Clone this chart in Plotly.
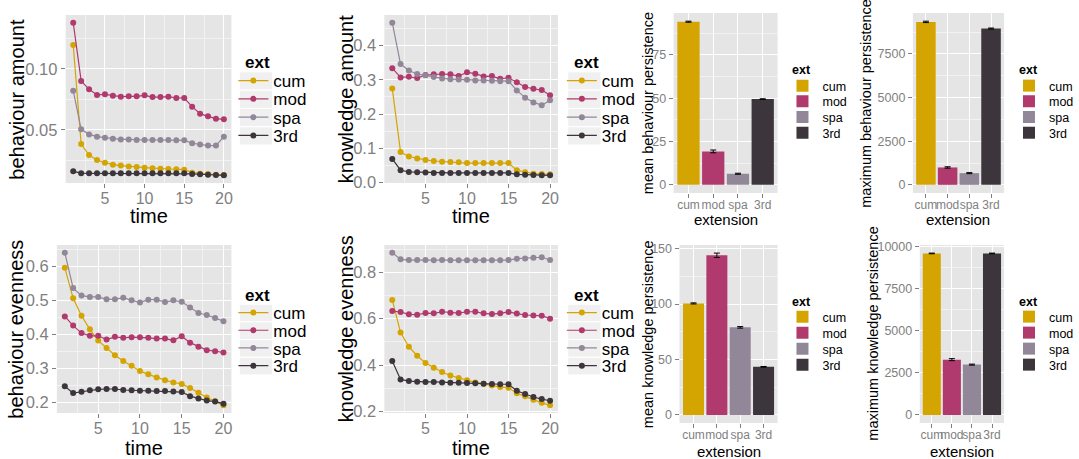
import plotly.graph_objects as go

W, H = 1079, 459

time = list(range(1, 21))
ext = ["cum", "mod", "spa", "3rd"]
colors = ["#D4A500", "#B03A6E", "#928799", "#3C353C"]

# behaviour amount
beh_amount_cum = [0.1197, 0.0385, 0.0295, 0.0254, 0.0232, 0.0216, 0.0208, 0.0200, 0.0197, 0.0191,
                  0.0186, 0.0183, 0.0180, 0.0178, 0.0175, 0.0150, 0.0142, 0.0139, 0.0134, 0.0131]
beh_amount_mod = [0.1380, 0.0902, 0.0833, 0.0787, 0.0792, 0.0781, 0.0773, 0.0776, 0.0776, 0.0784,
                  0.0770, 0.0770, 0.0773, 0.0762, 0.0762, 0.0691, 0.0634, 0.0612, 0.0593, 0.0587]
beh_amount_spa = [0.0822, 0.0505, 0.0464, 0.0445, 0.0437, 0.0429, 0.0423, 0.0423, 0.0418, 0.0418,
                  0.0418, 0.0418, 0.0418, 0.0415, 0.0415, 0.0391, 0.0380, 0.0372, 0.0372, 0.0445]
beh_amount_3rd = [0.0161, 0.0146, 0.0145, 0.0145, 0.0145, 0.0145, 0.0145, 0.0145, 0.0145, 0.0145,
                  0.0145, 0.0145, 0.0145, 0.0145, 0.0145, 0.0140, 0.0137, 0.0134, 0.0131, 0.0128]

# knowledge amount
know_amount_cum = [0.275, 0.089, 0.076, 0.070, 0.066, 0.063, 0.061, 0.060, 0.059, 0.057,
                   0.057, 0.057, 0.057, 0.057, 0.057, 0.036, 0.030, 0.026, 0.025, 0.024]
know_amount_mod = [0.334, 0.307, 0.309, 0.305, 0.314, 0.316, 0.317, 0.316, 0.311, 0.322,
                   0.318, 0.310, 0.311, 0.303, 0.306, 0.293, 0.279, 0.274, 0.270, 0.255]
know_amount_spa = [0.467, 0.346, 0.327, 0.317, 0.313, 0.308, 0.304, 0.302, 0.301, 0.300,
                   0.298, 0.298, 0.297, 0.296, 0.296, 0.269, 0.248, 0.234, 0.226, 0.240]
know_amount_3rd = [0.069, 0.036, 0.031, 0.030, 0.029, 0.028, 0.028, 0.028, 0.028, 0.028,
                   0.028, 0.028, 0.028, 0.028, 0.028, 0.024, 0.023, 0.022, 0.021, 0.021]

# behaviour evenness
beh_even_cum = [0.596, 0.506, 0.455, 0.415, 0.382, 0.360, 0.339, 0.322, 0.308, 0.293,
                0.283, 0.274, 0.266, 0.259, 0.255, 0.243, 0.229, 0.215, 0.204, 0.192]
beh_even_mod = [0.453, 0.426, 0.404, 0.396, 0.396, 0.385, 0.393, 0.390, 0.392, 0.392,
                0.390, 0.388, 0.388, 0.383, 0.395, 0.376, 0.364, 0.354, 0.351, 0.347]
beh_even_spa = [0.640, 0.536, 0.514, 0.510, 0.510, 0.503, 0.503, 0.508, 0.500, 0.494,
                0.502, 0.502, 0.495, 0.500, 0.496, 0.479, 0.463, 0.457, 0.448, 0.439]
beh_even_3rd = [0.248, 0.228, 0.232, 0.236, 0.239, 0.240, 0.240, 0.237, 0.236, 0.235,
                0.235, 0.234, 0.234, 0.233, 0.231, 0.219, 0.212, 0.206, 0.203, 0.197]

# knowledge evenness
know_even_cum = [0.681, 0.540, 0.479, 0.440, 0.409, 0.388, 0.370, 0.355, 0.344, 0.334,
                 0.325, 0.319, 0.312, 0.305, 0.302, 0.278, 0.265, 0.250, 0.237, 0.226]
know_even_mod = [0.633, 0.629, 0.619, 0.617, 0.624, 0.623, 0.630, 0.626, 0.624, 0.630,
                 0.630, 0.623, 0.620, 0.623, 0.629, 0.622, 0.616, 0.614, 0.613, 0.600]
know_even_spa = [0.885, 0.856, 0.853, 0.853, 0.853, 0.852, 0.853, 0.852, 0.852, 0.852,
                 0.852, 0.852, 0.852, 0.852, 0.853, 0.859, 0.860, 0.863, 0.865, 0.853]
know_even_3rd = [0.417, 0.338, 0.331, 0.328, 0.327, 0.327, 0.325, 0.324, 0.324, 0.322,
                 0.321, 0.319, 0.318, 0.317, 0.317, 0.289, 0.275, 0.262, 0.253, 0.246]

# persistence bars
mean_beh_pers = [94.2, 19.3, 6.4, 49.5]
mean_beh_err = [0.3, 0.8, 0.3, 0.2]
max_beh_pers = [9335, 995, 669, 8952]
max_beh_err = [40, 40, 30, 30]
mean_know_pers = [100.6, 144.0, 79.0, 43.4]
mean_know_err = [0.5, 2.0, 0.7, 0.3]
max_know_pers = [9584, 3280, 2985, 9584]
max_know_err = [20, 60, 30, 20]

FONT = "Liberation Sans, Arial, sans-serif"
TICKC = "#7F7F7F"
PANEL = "#E5E5E5"
MINOR = "#F2F2F2"
KEYBG = "#F0F0F0"

fig = go.Figure()


def px_dom(a, b, total, flip=False):
    if flip:
        return [1 - b / total, 1 - a / total]
    return [a / total, b / total]


def expand(lo, hi, frac=0.05):
    d = (hi - lo) * frac
    return [lo - d, hi + d]


# dom: (left, right, top, bottom) px; xt: x title centre y; yt: y title centre x
# leg: (legend left px, title centre y px, first entry centre y px, entry step px)
line_panels = [
    dict(series=[beh_amount_cum, beh_amount_mod, beh_amount_spa, beh_amount_3rd], title="behaviour amount",
         dom=(67, 236, 15, 183), xt=216.5, yt=17, dtick=0.05, fmt=".2f", leg=(238, 63, 81, 18.3)),
    dict(series=[know_amount_cum, know_amount_mod, know_amount_spa, know_amount_3rd], title="knowledge amount",
         dom=(392, 569, 15, 183), xt=216.5, yt=353, dtick=0.1, fmt=".1f", leg=(573, 63, 81, 18.3)),
    dict(series=[beh_even_cum, beh_even_mod, beh_even_spa, beh_even_3rd], title="behaviour evenness",
         dom=(58, 236, 245, 413), xt=448, yt=16, dtick=0.1, fmt=".1f", leg=(238, 295, 313, 17.7)),
    dict(series=[know_even_cum, know_even_mod, know_even_spa, know_even_3rd], title="knowledge evenness",
         dom=(392, 569, 245, 413), xt=448, yt=353, dtick=0.2, fmt=".1f", leg=(573, 295, 313, 17.7)),
]

bar_panels = [
    dict(vals=mean_beh_pers, err=mean_beh_err, title="mean behaviour persistence", dom=(687, 793, 13, 193),
         xt=219, yt=661, dtick=25, leg=(798, 70, 86, 15.7)),
    dict(vals=max_beh_pers, err=max_beh_err, title="maximum behaviour persistence", dom=(931, 1024, 13, 193),
         xt=219, yt=883, dtick=2500, leg=(1029, 70, 86, 15.7)),
    dict(vals=mean_know_pers, err=mean_know_err, title="mean knowledge persistence", dom=(693, 793, 245, 423),
         xt=451, yt=661, dtick=50, leg=(798, 302, 317, 16)),
    dict(vals=max_know_pers, err=max_know_err, title="maximum knowledge persistence", dom=(938, 1024, 245, 423),
         xt=451, yt=890, dtick=2500, leg=(1029, 302, 317, 16)),
]

layout = dict(width=W, height=H, margin=dict(l=0, r=0, t=0, b=0), paper_bgcolor="white",
              plot_bgcolor=PANEL, font=dict(family=FONT, color="black"), showlegend=True)
annotations = []
shapes = []
legend_count = 0


def add_legends(leg, fsize, title_dx, keybox=None):
    """One single-entry legend per category so entry spacing matches the reference."""
    global legend_count
    lx, ty, y0, step = leg
    names = []
    for k in range(len(ext)):
        legend_count += 1
        lname = "legend" if legend_count == 1 else "legend" + str(legend_count)
        yc = y0 + k * step
        layout[lname] = dict(x=lx / W, y=1 - yc / H, xanchor="left", yanchor="middle",
                             bgcolor="rgba(0,0,0,0)", font=dict(size=fsize), tracegroupgap=0, itemwidth=30)
        names.append(lname)
        if keybox:
            a, b = keybox
            shapes.append(dict(type="rect", xref="paper", yref="paper", layer="above",
                               x0=(lx + a) / W, x1=(lx + b) / W,
                               y0=1 - (yc + step / 2) / H, y1=1 - (yc - step / 2) / H,
                               fillcolor=KEYBG, line=dict(color="white", width=1)))
    annotations.append(dict(text="<b>ext</b>", x=(lx + title_dx) / W, y=1 - ty / H, xref="paper", yref="paper",
                            xanchor="left", yanchor="middle", showarrow=False, font=dict(size=fsize)))
    return names


def add_titles(dom, xt, yt, xtext, ytext, fx, fy):
    x0, x1, y0, y1 = dom
    annotations.append(dict(text=xtext, x=(x0 + x1) / 2 / W, y=1 - xt / H, xref="paper", yref="paper",
                            xanchor="center", yanchor="middle", showarrow=False, font=dict(size=fx)))
    annotations.append(dict(text=ytext, x=yt / W, y=1 - (y0 + y1) / 2 / H, xref="paper", yref="paper",
                            xanchor="center", yanchor="middle", showarrow=False, textangle=-90,
                            font=dict(size=fy)))


idx = 0
for p in line_panels:
    idx += 1
    sfx = "" if idx == 1 else str(idx)
    lnames = add_legends(p["leg"], 17, 10, keybox=(6, 40))
    add_titles(p["dom"], p["xt"], p["yt"], "time", p["title"], 20, 20)
    for name, col, ys, ln in zip(ext, colors, p["series"], lnames):
        fig.add_trace(go.Scatter(x=time, y=ys, mode="lines+markers", name=name,
                                 line=dict(color=col, width=1.2), marker=dict(color=col, size=6),
                                 xaxis="x" + sfx, yaxis="y" + sfx, legend=ln))
    allv = [v for s in p["series"] for v in s]
    x0, x1, y0, y1 = p["dom"]
    layout["xaxis" + sfx] = dict(domain=px_dom(x0, x1, W), anchor="y" + sfx, range=expand(1, 20),
                                 tick0=0, dtick=5, showgrid=True, gridcolor="white", gridwidth=1.1,
                                 minor=dict(dtick=2.5, tick0=0, showgrid=True, gridcolor=MINOR, gridwidth=0.5),
                                 ticks="outside", ticklen=4, tickcolor=TICKC, showline=False, zeroline=False,
                                 tickfont=dict(size=16, color=TICKC), ticklabelstandoff=-3, automargin=False)
    layout["yaxis" + sfx] = dict(domain=px_dom(y0, y1, H, flip=True), anchor="x" + sfx,
                                 range=expand(min(allv), max(allv)), tick0=0, dtick=p["dtick"],
                                 tickformat=p["fmt"], showgrid=True, gridcolor="white", gridwidth=1.1,
                                 minor=dict(dtick=p["dtick"] / 2, tick0=0, showgrid=True, gridcolor=MINOR,
                                            gridwidth=0.5),
                                 ticks="outside", ticklen=4, tickcolor=TICKC, showline=False, zeroline=False,
                                 tickfont=dict(size=16.5, color=TICKC), automargin=False)

for p in bar_panels:
    idx += 1
    sfx = str(idx)
    lnames = add_legends(p["leg"], 12.5, 8)
    add_titles(p["dom"], p["xt"], p["yt"], "extension", p["title"], 15, 14.5)
    for i, (name, col) in enumerate(zip(ext, colors)):
        fig.add_trace(go.Bar(x=[name], y=[p["vals"][i]], name=name, marker=dict(color=col, line=dict(width=0)),
                             width=0.9,
                             error_y=dict(type="data", array=[p["err"][i]], color="black", thickness=1, width=3),
                             xaxis="x" + sfx, yaxis="y" + sfx, legend=lnames[i]))
    top = max(v + e for v, e in zip(p["vals"], p["err"]))
    x0, x1, y0, y1 = p["dom"]
    layout["xaxis" + sfx] = dict(domain=px_dom(x0, x1, W), anchor="y" + sfx, type="category",
                                 categoryorder="array", categoryarray=ext, range=[-0.6, 3.6],
                                 showgrid=True, gridcolor="white", gridwidth=1.1, tickangle=0,
                                 ticks="outside", ticklen=4, tickcolor=TICKC, showline=False, zeroline=False,
                                 tickfont=dict(size=12, color=TICKC), ticklabelstandoff=-3, automargin=False)
    layout["yaxis" + sfx] = dict(domain=px_dom(y0, y1, H, flip=True), anchor="x" + sfx,
                                 range=expand(0, top), tick0=0, dtick=p["dtick"], tickformat="d",
                                 showgrid=True, gridcolor="white", gridwidth=1.1,
                                 minor=dict(dtick=p["dtick"] / 2, tick0=0, showgrid=True, gridcolor=MINOR,
                                            gridwidth=0.5),
                                 ticks="outside", ticklen=4, tickcolor=TICKC, showline=False, zeroline=False,
                                 tickfont=dict(size=12.5, color=TICKC), automargin=False)

layout["barmode"] = "overlay"
layout["annotations"] = annotations
layout["shapes"] = shapes
fig.update_layout(**layout)
fig.write_html("out.html", config={"displayModeBar": False},
               post_script="document.body.style.margin='0';document.body.style.padding='0';")
